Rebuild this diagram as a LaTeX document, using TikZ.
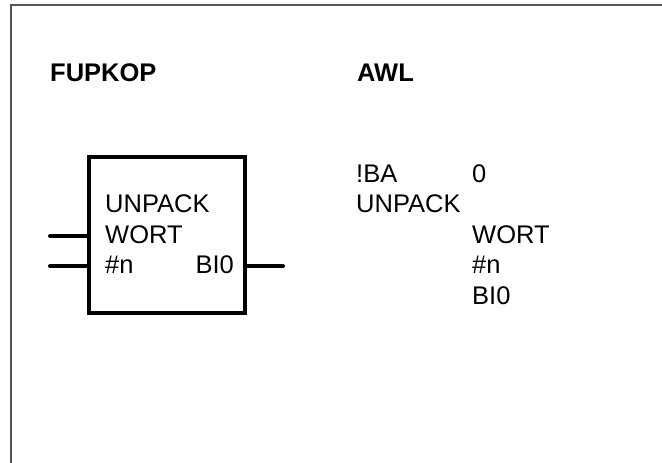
\documentclass[tikz,border=0pt]{standalone}
\usepackage{fontspec}
\setmainfont{Liberation Sans}
\usetikzlibrary{positioning,calc}
\definecolor{framegray}{HTML}{555555}
\tikzset{
  frame/.style={draw=framegray, line width=1.6pt},
  fbblock/.style={draw=black, line width=4pt, minimum width=156pt,
    minimum height=156pt, inner sep=0pt},
  pin/.style={draw=black, line width=4pt, line cap=round},
  lbl/.style={font=\fontsize{25.5}{30}\selectfont, inner sep=0pt, anchor=base west},
  head/.style={lbl, font=\fontsize{25.5}{30}\selectfont\bfseries},
}

\begin{document}
\begin{tikzpicture}[x=1pt,y=-1pt]
  \useasboundingbox (0,0) rectangle (662,463);
  % open frame: top and left edge only
  \draw[frame] (11,463) -- (11,5) -- (662,5);
  % headings
  \node[head] (hfup) at (50,81) {FUPKOP};
  \node[head] (hawl) at (357,81) {AWL};
  % function block
  \node[fbblock] (block) at (167,235) {};
  \node[lbl] (bname) at (105,212.5) {UNPACK};
  \node[lbl] (bwort) at (105,243) {WORT};
  \node[lbl] (bn) at (105,273) {\#n};
  \node[lbl, anchor=base east] (bbi) at (234,273) {BI0};
  % pins
  \coordinate (in1) at (50,236);
  \coordinate (in2) at (50,266);
  \coordinate (out1) at (283,266);
  \draw[pin] (in1) -- (in1 -| block.west);
  \draw[pin] (in2) -- (in2 -| block.west);
  \draw[pin] (out1 -| block.east) -- (out1);
  % statement list
  \node[lbl] (aba) at (356,182) {!BA};
  \node[lbl] (azero) at (472,182) {0};
  \node[lbl] (aname) at (356,212.5) {UNPACK};
  \node[lbl] (awort) at (472,243) {WORT};
  \node[lbl] (an) at (472,273.5) {\#n};
  \node[lbl] (abi) at (472,304) {BI0};
\end{tikzpicture}
\end{document}
